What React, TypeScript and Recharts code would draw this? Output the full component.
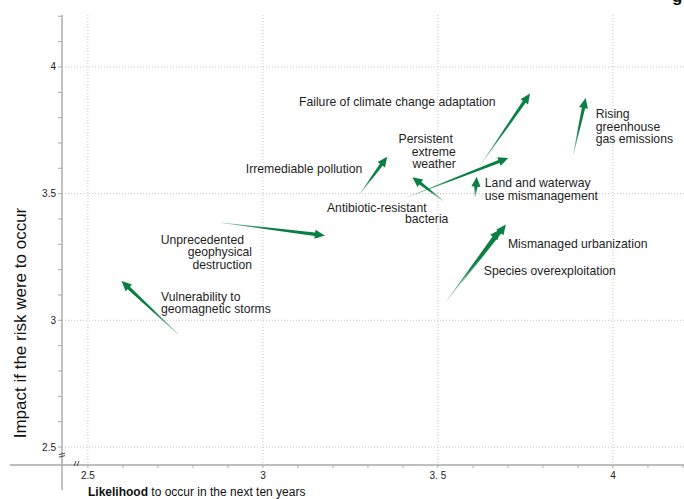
import React from 'react';
import { ScatterChart, Scatter, XAxis, YAxis, CartesianGrid, ReferenceLine, ReferenceDot } from 'recharts';

// risk movements: from previous assessment (tail) to current one (head)
const risks = [
  'Failure of climate change adaptation',
  'Persistent extreme weather',
  'Irremediable pollution',
  'Antibiotic-resistant bacteria',
  'Land and waterway use mismanagement',
  'Rising greenhouse gas emissions',
  'Unprecedented geophysical destruction',
  'Vulnerability to geomagnetic storms',
  'Species overexploitation',
  'Mismanaged urbanization',
];
const likelihoodFrom = [3.626, 3.411, 3.277, 3.515, 3.606, 3.887, 2.882, 2.758, 3.526, 3.569];
const impactFrom = [3.622, 3.485, 3.499, 3.472, 3.485, 3.656, 3.385, 2.945, 3.079, 3.15];
const likelihoodTo = [3.763, 3.701, 3.355, 3.427, 3.611, 3.922, 3.177, 2.596, 3.677, 3.694];
const impactTo = [3.895, 3.641, 3.646, 3.565, 3.567, 3.877, 3.335, 3.155, 3.358, 3.378];

const xTicks = [2.5, 2.6, 2.7, 2.8, 2.9, 3, 3.1, 3.2, 3.3, 3.4, 3.5, 3.6, 3.7, 3.8, 3.9, 4, 4.1, 4.2];
const yTicks = [2.5, 2.6, 2.7, 2.8, 2.9, 3, 3.1, 3.2, 3.3, 3.4, 3.5, 3.6, 3.7, 3.8, 3.9, 4, 4.1, 4.2];
const gridValues = [2.5, 3, 3.5, 4];
const xTickLabels: Record<string, string> = { '2.5': '2.5', '3': '3', '3.5': '3. 5', '4': '4' };
const yTickLabels: Record<string, string> = { '2.5': '2.5', '3': '3', '3.5': '3.5', '4': '4' };

// annotation text, placed in data units
const labelLines = [
  ['Failure of climate change adaptation'],
  ['Persistent', 'extreme', 'weather'],
  ['Irremediable pollution'],
  ['Antibiotic-resistant'],
  ['bacteria'],
  ['Land and waterway', 'use mismanagement'],
  ['Rising', 'greenhouse', 'gas emissions'],
  ['Mismanaged urbanization'],
  ['Species overexploitation'],
  ['Unprecedented', 'geophysical', 'destruction'],
  ['Vulnerability to', 'geomagnetic storms'],
];
const labelAt = [
  { x: 3.103, y: 3.862, anchor: 'start' },
  { x: 3.551, y: 3.717, anchor: 'end', dx: [-3, 0, 0] },
  { x: 2.951, y: 3.598, anchor: 'start' },
  { x: 3.183, y: 3.445, anchor: 'start' },
  { x: 3.406, y: 3.402, anchor: 'start' },
  { x: 3.634, y: 3.543, anchor: 'start' },
  { x: 3.951, y: 3.815, anchor: 'start' },
  { x: 3.7, y: 3.303, anchor: 'start' },
  { x: 3.631, y: 3.197, anchor: 'start' },
  { x: 2.969, y: 3.319, anchor: 'end', dx: [-8, 0, 0] },
  { x: 2.709, y: 3.094, anchor: 'start' },
];

const X_DOMAIN: [number, number] = [2.426, 4.203];
const Y_DOMAIN: [number, number] = [2.429, 4.205];
const GREEN = '#0a7f44';
const FONT = '"Liberation Sans", Arial, Helvetica, sans-serif';

const Arrow = (props: any) => {
  const { x1, y1, x2, y2, id } = props;
  const dx = x2 - x1;
  const dy = y2 - y1;
  const len = Math.sqrt(dx * dx + dy * dy) || 1;
  const ux = dx / len;
  const uy = dy / len;
  const nx = -uy;
  const ny = ux;
  const hl = Math.min(10, len * 0.5);
  const hw = 4.6;
  const sw = 1.7;
  const bx = x2 - ux * hl;
  const by = y2 - uy * hl;
  const pts = [
    [x1 + nx * 0.2, y1 + ny * 0.2],
    [bx + nx * sw, by + ny * sw],
    [bx + nx * hw, by + ny * hw],
    [x2, y2],
    [bx - nx * hw, by - ny * hw],
    [bx - nx * sw, by - ny * sw],
    [x1 - nx * 0.2, y1 - ny * 0.2],
  ]
    .map((p) => p.join(','))
    .join(' ');
  return (
    <g>
      <defs>
        <linearGradient id={id} gradientUnits="userSpaceOnUse" x1={x1} y1={y1} x2={x2} y2={y2}>
          <stop offset="0" stopColor={GREEN} stopOpacity={0.35} />
          <stop offset="0.45" stopColor={GREEN} stopOpacity={1} />
          <stop offset="1" stopColor={GREEN} stopOpacity={1} />
        </linearGradient>
      </defs>
      <polygon points={pts} fill={`url(#${id})`} />
    </g>
  );
};

const makeLabel = (lines: string[], anchor: string, dx?: number[]) => (props: any) => {
  const { cx, cy } = props;
  return (
    <text fontSize={12.2} fill="#1e1e1e" fontFamily={FONT} textAnchor={anchor}>
      {lines.map((t, i) => (
        <tspan key={i} x={cx + (dx ? dx[i] : 0)} y={cy + 4.3 + i * 12.6}>
          {t}
        </tspan>
      ))}
    </text>
  );
};

const YTitle = (props: any) => {
  const vb = props.viewBox || { x: 0, y: 15 };
  const x = vb.x + 26;
  const y = vb.y + 308;
  return (
    <text x={x} y={y} transform={`rotate(-90, ${x}, ${y})`} textAnchor="middle" fontSize={17} fill="#111" fontFamily={FONT}>
      Impact if the risk were to occur
    </text>
  );
};

const XTitle = (props: any) => {
  const vb = props.viewBox || { x: 62, y: 465 };
  return (
    <text x={vb.x + 26} y={vb.y + 31} fontSize={12} fill="#111" fontFamily={FONT}>
      <tspan fontWeight="bold">Likelihood</tspan> to occur in the next ten years
    </text>
  );
};

const BreakX = (props: any) => {
  const { cx, cy } = props;
  return (
    <g stroke="#333" strokeWidth={0.9}>
      <line x1={cx - 3} y1={cy + 1} x2={cx - 1} y2={cy - 4} />
      <line x1={cx} y1={cy + 1} x2={cx + 2} y2={cy - 4} />
    </g>
  );
};

const BreakY = (props: any) => {
  const { cx, cy } = props;
  return (
    <g stroke="#333" strokeWidth={0.9}>
      <line x1={cx - 3} y1={cy - 1} x2={cx + 3} y2={cy - 2.5} />
      <line x1={cx - 3} y1={cy + 1.5} x2={cx + 3} y2={cy} />
    </g>
  );
};

const heads = risks.map((name, i) => ({ name, x: likelihoodTo[i], y: impactTo[i] }));

export default function App() {
  return (
    <div style={{ position: 'absolute', left: 0, top: 0, width: 684, height: 499, background: '#fff', fontFamily: FONT }}>
      <span style={{ position: 'absolute', left: 672, top: -13, fontSize: 17, fontWeight: 'bold', color: '#111' }}>g</span>
      <ScatterChart width={684} height={499} margin={{ top: 15, right: 0, bottom: 0, left: 0 }} style={{ fontFamily: FONT }}>
        <CartesianGrid
          stroke="#c4c4c4"
          strokeDasharray="1 2"
          horizontalValues={gridValues}
          verticalValues={gridValues}
        />
        <XAxis
          type="number"
          dataKey="x"
          domain={X_DOMAIN}
          allowDataOverflow
          ticks={xTicks}
          interval={0}
          height={34}
          axisLine={false}
          tickSize={3}
          tickLine={{ stroke: '#aaa' }}
          tick={{ fontSize: 10, fill: '#222' }}
          tickMargin={4}
          tickFormatter={(v: number) => xTickLabels[String(Math.round(v * 10) / 10)] || ''}
          label={<XTitle />}
        />
        <YAxis
          type="number"
          dataKey="y"
          domain={Y_DOMAIN}
          allowDataOverflow
          ticks={yTicks}
          interval={0}
          width={62}
          axisLine={false}
          tickSize={4}
          tickLine={{ stroke: '#aaa' }}
          tick={{ fontSize: 10, fill: '#222' }}
          tickMargin={2}
          tickFormatter={(v: number) => yTickLabels[String(Math.round(v * 10) / 10)] || ''}
          label={<YTitle />}
        />
        {/* extended axis lines */}
        <ReferenceLine
          segment={[{ x: 2.277, y: Y_DOMAIN[0] }, { x: X_DOMAIN[1], y: Y_DOMAIN[0] }]}
          ifOverflow="visible"
          stroke="#a8a8a8"
          strokeWidth={1.4}
        />
        <ReferenceLine
          segment={[{ x: X_DOMAIN[0], y: 2.33 }, { x: X_DOMAIN[0], y: Y_DOMAIN[1] }]}
          ifOverflow="visible"
          stroke="#a8a8a8"
          strokeWidth={1.4}
        />
        <ReferenceDot x={2.469} y={Y_DOMAIN[0]} ifOverflow="visible" shape={BreakX} />
        <ReferenceDot x={X_DOMAIN[0]} y={2.466} ifOverflow="visible" shape={BreakY} />
        <Scatter data={heads} isAnimationActive={false} shape={() => <g />} />
        {risks.map((name, i) => (
          <ReferenceLine
            key={name}
            segment={[
              { x: likelihoodFrom[i], y: impactFrom[i] },
              { x: likelihoodTo[i], y: impactTo[i] },
            ]}
            ifOverflow="visible"
            shape={(p: any) => <Arrow {...p} id={`arrow-grad-${i}`} />}
          />
        ))}
        {labelLines.map((lines, i) => (
          <ReferenceDot
            key={lines.join('-')}
            x={labelAt[i].x}
            y={labelAt[i].y}
            ifOverflow="visible"
            shape={makeLabel(lines, labelAt[i].anchor, (labelAt[i] as any).dx)}
          />
        ))}
      </ScatterChart>
    </div>
  );
}
